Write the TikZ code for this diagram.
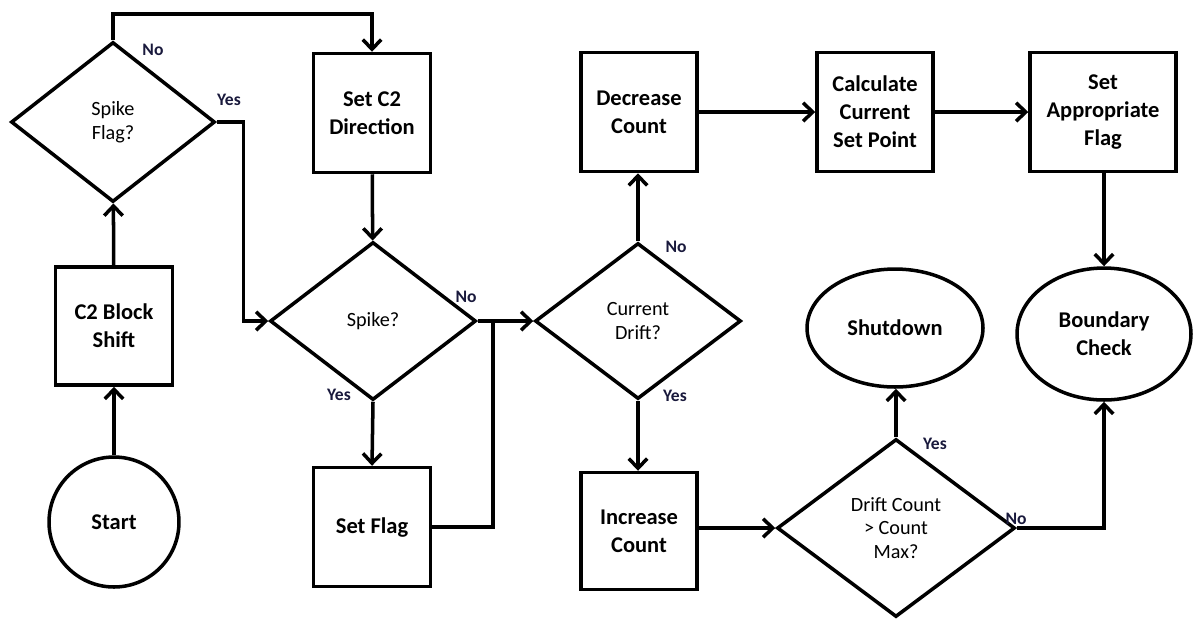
\documentclass[tikz,border=0pt]{standalone}
\usepackage{fontspec}
\setmainfont{Carlito}
\usetikzlibrary{shapes.geometric,arrows.meta}
\definecolor{lblcol}{RGB}{25,25,60}
\tikzset{
  flow/.style={line width=2pt, -{Straight Barb[length=5.5pt,width=10.5pt]}},
  wire/.style={line width=2pt},
  stepbox/.style={draw, line width=2pt, minimum width=2.38cm, minimum height=2.38cm,
    align=center, inner sep=0pt, font=\fontsize{12.8}{16}\selectfont\bfseries},
  decision/.style={draw, diamond, line width=2pt, inner sep=0pt, align=center,
    font=\fontsize{11.5}{13.5}\selectfont},
  terminal/.style={draw, ellipse, line width=2pt, inner sep=0pt, align=center,
    font=\fontsize{12.8}{16}\selectfont\bfseries},
  lbl/.style={text=lblcol, inner sep=0pt, font=\fontsize{10}{11}\selectfont\bfseries}
}
\begin{document}
\begin{tikzpicture}[x=0.02cm, y=-0.02cm]
  \useasboundingbox (0,0) rectangle (1195,620);
  % left column
  \node[terminal, minimum width=2.6cm, minimum height=2.6cm] (start) at (114,522) {Start};
  \node[stepbox, minimum width=2.34cm, minimum height=2.36cm] (c2shift) at (114,326) {C2 Block\\Shift};
  \node[decision, minimum width=4.08cm, minimum height=3.2cm] (spikeflag) at (113,122) {Spike\\Flag?};
  % second column
  \node[stepbox, minimum width=2.34cm] (setdir) at (372,113) {Set C2\\Direction};
  \node[decision, minimum width=4.12cm, minimum height=3.16cm] (spike) at (373,321) {Spike?};
  \node[stepbox, minimum width=2.34cm] (setflag) at (372,527) {Set Flag};
  \coordinate (merge) at (493,322);
  % third column
  \node[decision, minimum width=4.12cm, minimum height=3.12cm] (drift) at (638,321) {Current\\Drift?};
  \node[stepbox, minimum width=2.32cm] (decr) at (639,112) {Decrease\\Count};
  \node[stepbox, minimum width=2.32cm, minimum height=2.34cm] (incr) at (639,531) {Increase\\Count};
  % right part
  \node[stepbox, minimum width=2.32cm] (calc) at (875,112) {Calculate\\Current\\Set Point};
  \node[stepbox, minimum width=2.92cm] (setapp) at (1103,112) {Set\\Appropriate\\Flag};
  \node[terminal, minimum width=3.52cm, minimum height=2.36cm] (shutdown) at (895,328) {Shutdown};
  \node[terminal, minimum width=3.48cm, minimum height=2.64cm] (bcheck) at (1104,334) {Boundary\\Check};
  \node[decision, minimum width=4.76cm, minimum height=3.56cm] (count) at (896,528) {Drift Count\\> Count\\Max?};

  % connectors
  \draw[flow] (start) -- (c2shift);
  \draw[flow] (c2shift) -- (spikeflag);
  \draw[flow] (spikeflag.north) -- (spikeflag.north |- 0,14) -| (setdir.north);
  \draw[flow] (spikeflag.east) -- ++(27,0) |- (spike.west);
  \draw[flow] (setdir) -- (spike);
  \draw[flow] (spike.south) -- (setflag.north);
  \draw[wire] (setflag.east) -| (merge);
  \draw[flow] (spike.east) -- (drift.west);
  \draw[flow] (drift.north) -- (decr.south -| drift.north);
  \draw[flow] (drift.south) -- (incr.north -| drift.south);
  \draw[flow] (decr) -- (calc);
  \draw[flow] (calc) -- (setapp);
  \draw[flow] (setapp.south -| bcheck.north) -- (bcheck.north);
  \draw[flow] (incr.east |- count.west) -- (count.west);
  \draw[flow] (count.north) -- (shutdown.south -| count.north);
  \draw[flow] (count.east) -| (bcheck.south);

  % branch labels
  \node[lbl] (sfno) at (153,50) {No};
  \node[lbl] (sfyes) at (229,100) {Yes};
  \node[lbl] (spno) at (466,297) {No};
  \node[lbl] (spyes) at (339,395) {Yes};
  \node[lbl] (drno) at (676,247) {No};
  \node[lbl] (dryes) at (675,396) {Yes};
  \node[lbl] (cnyes) at (935,444) {Yes};
  \node[lbl] (cnno) at (1016,519) {No};
\end{tikzpicture}
\end{document}
